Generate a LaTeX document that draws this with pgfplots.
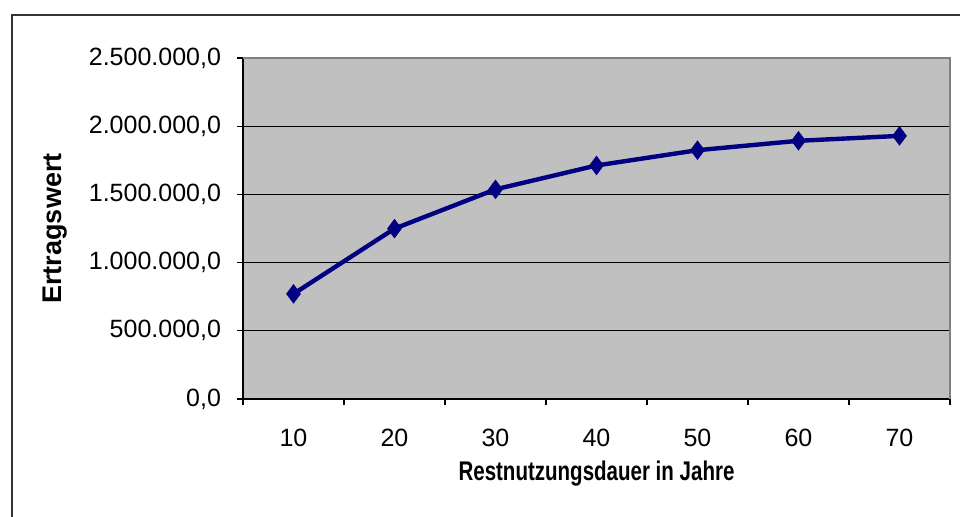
\documentclass[border=0pt]{standalone}
\usepackage{fontspec}
\setmainfont{Liberation Sans}
\usepackage{graphicx}
\usepackage{pgfplots}
\pgfplotsset{compat=1.18}
\definecolor{plotgray}{RGB}{192,192,192}
\definecolor{framegray}{RGB}{128,128,128}
\definecolor{excelnavy}{RGB}{0,0,128}

\begin{document}
\begin{tikzpicture}
\useasboundingbox (0,0) rectangle (480bp,258.5bp);
\draw[line width=1bp, black!80] (6bp,-2bp) -- (6bp,251bp) -- (482bp,251bp);
\begin{axis}[
  at={(121.5bp,59bp)}, anchor=south west,
  scale only axis,
  width=353.5bp, height=170.5bp,
  xmin=5, xmax=75,
  ymin=0, ymax=2500000,
  xtick={10,20,...,70},
  major x tick style={draw=none},
  minor xtick={5,15,...,75},
  minor x tick style={black, line width=0.6bp},
  ytick={0,500000,...,2500000},
  ytick style={black, line width=0.6bp},
  tick align=outside,
  major tick length=3bp,
  minor tick length=3bp,
  axis x line*=bottom, axis y line*=left,
  axis line style={black, line width=0.8bp, -},
  axis background/.style={fill=plotgray},
  ymajorgrids,
  grid style={black, line width=0.6bp},
  scaled y ticks=false,
  yticklabel style={
    /pgf/number format/fixed,
    /pgf/number format/fixed zerofill,
    /pgf/number format/precision=1,
    /pgf/number format/use comma,
    /pgf/number format/1000 sep={.},
    xshift=-4.5bp},
  /pgf/number format/assume math mode=true,
  yticklabel style={font=\fontsize{12.5bp}{14bp}\selectfont},
  xticklabel style={font=\fontsize{12.5bp}{14bp}\selectfont, yshift=-8.5bp},
  xlabel={\scalebox{0.76}[1]{\textbf{Restnutzungsdauer in Jahre}}},
  ylabel={\textbf{Ertragswert}},
  xlabel style={font=\fontsize{13.5bp}{15bp}\selectfont, at={(axis description cs:0.5,-0.218)}, anchor=center},
  ylabel style={font=\fontsize{13.5bp}{15bp}\selectfont, at={(axis description cs:-0.266,0.5)}, anchor=center},
  clip=false,
]
\draw[framegray, line width=1bp] (rel axis cs:0,1) -- (rel axis cs:1,1) -- (rel axis cs:1,0);
\addplot[excelnavy, line width=2.2bp, mark=diamond*, mark size=4.5bp,
  mark options={fill=excelnavy, draw=excelnavy, line width=0.5bp}] coordinates {
  (10,770500) (20,1249000) (30,1537000) (40,1712000) (50,1824000) (60,1893000) (70,1929000)
};
\end{axis}
\end{tikzpicture}
\end{document}
